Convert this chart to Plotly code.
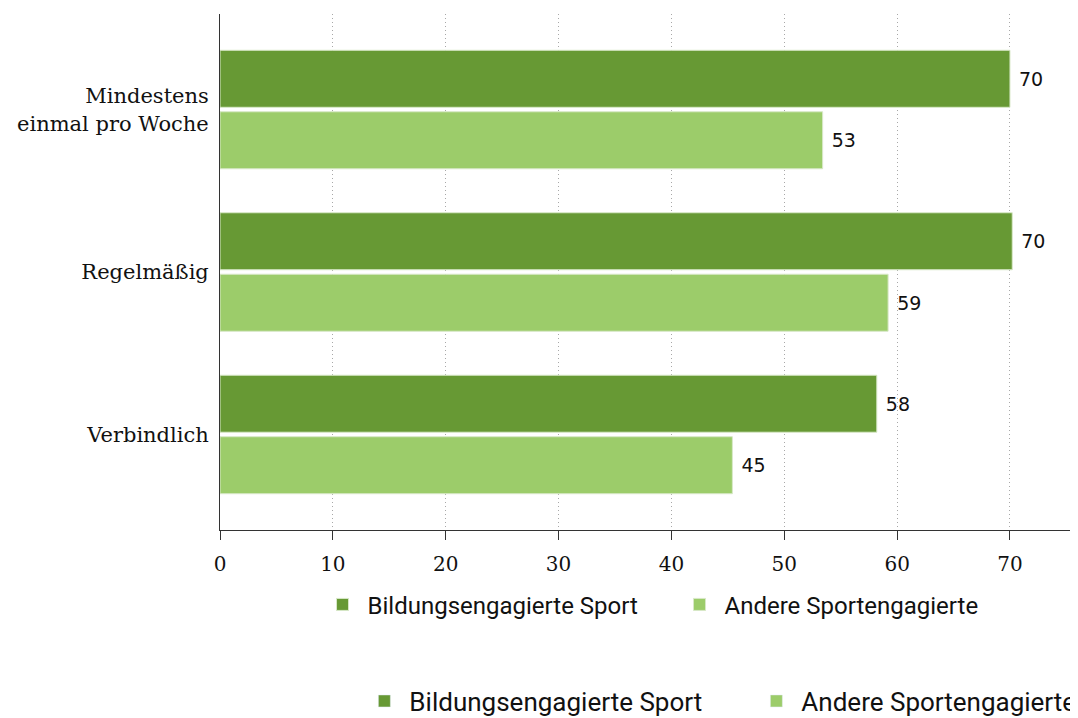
import plotly.graph_objects as go

categories = ["Mindestens<br>einmal pro Woche", "Regelmäßig", "Verbindlich"]
bildung_sport = [70.0, 70.2, 58.2]
andere_sport = [53.4, 59.2, 45.4]
series_names = ["Bildungsengagierte Sport", "Andere Sportengagierte"]
x_ticks = [0, 10, 20, 30, 40, 50, 60, 70]

DARK = "#679934"
LIGHT = "#9ccc6a"
SERIF = "DejaVu Serif"
SANS = "Roboto, sans-serif"

fig = go.Figure()

for name, vals, color, grp in [(series_names[0], bildung_sport, DARK, "a"),
                               (series_names[1], andere_sport, LIGHT, "b")]:
    fig.add_trace(go.Bar(
        y=categories, x=vals, name=name, orientation="h",
        marker=dict(color=color, line=dict(color="#d8e8c8", width=1)),
        offsetgroup=grp, legend="legend",
        text=[f" {v:.0f}" for v in vals], textposition="outside",
        textfont=dict(family="DejaVu Sans", size=19, color="#111111"),
        cliponaxis=False, hoverinfo="skip",
    ))
    # second copy of the legend at the bottom
    fig.add_trace(go.Bar(
        y=[None], x=[None], name=name, orientation="h",
        marker=dict(color=color), offsetgroup=grp, legend="legend2",
        showlegend=True, hoverinfo="skip",
    ))

# the page adds an 8px body margin, so the margins are shifted by 8px
fig.update_layout(
    width=1078, height=718,
    plot_bgcolor="white", paper_bgcolor="white",
    margin=dict(l=212, r=3, t=6, b=196, autoexpand=False),
    barmode="group", bargap=0.243, bargroupgap=0.073,
    legend=dict(orientation="h", x=0.113, y=-0.145, xanchor="left", yanchor="middle",
                font=dict(family=SANS, size=24, color="#111111"),
                itemwidth=40, entrywidth=302, entrywidthmode="pixels"),
    legend2=dict(orientation="h", x=0.1615, y=-0.3315, xanchor="left", yanchor="middle",
                 font=dict(family=SANS, size=26, color="#111111"),
                 itemwidth=40, entrywidth=337, entrywidthmode="pixels"),
)

fig.update_xaxes(
    range=[0, 76.47], tickvals=x_ticks, ticks="outside", ticklen=9,
    tickcolor="#333333", showline=True, linecolor="#333333", linewidth=1,
    showgrid=True, gridcolor="#a8a8a8", griddash="1px,3px", gridwidth=1,
    zeroline=False, ticklabelstandoff=7,
    tickfont=dict(family=SERIF, size=20, color="#111111"),
)
fig.update_yaxes(
    range=[2.588, -0.588], showline=True, linecolor="#333333", linewidth=1,
    ticks="", showgrid=False, ticklabelstandoff=6,
    tickfont=dict(family=SERIF, size=21, color="#111111"),
)

fig.write_html("out.html")
